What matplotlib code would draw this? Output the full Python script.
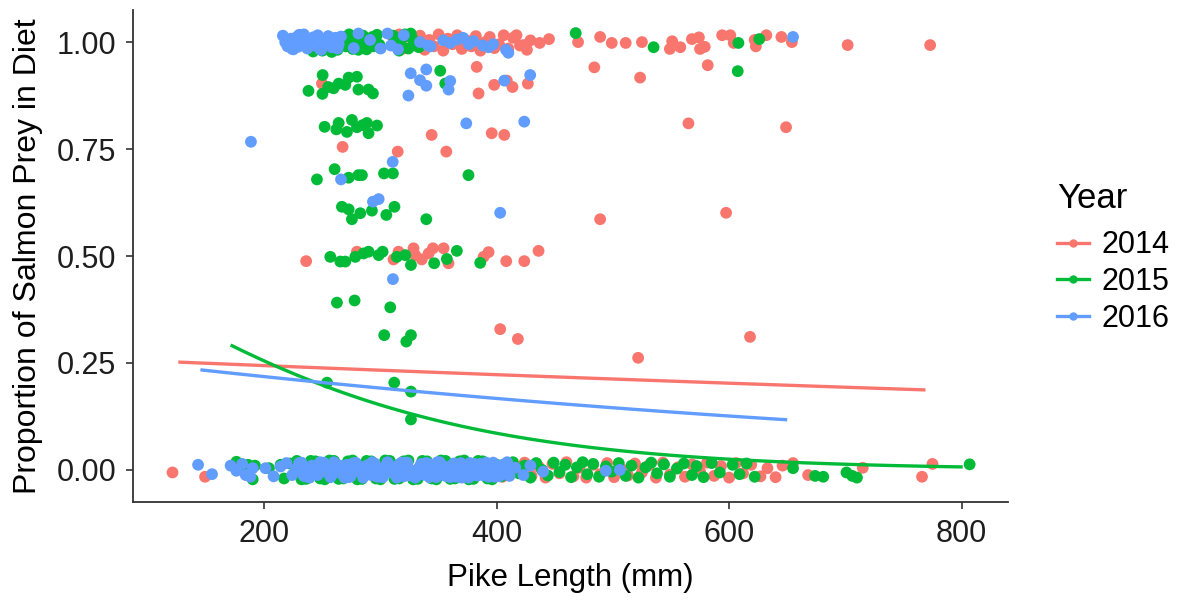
import numpy as np
import matplotlib
matplotlib.use("Agg")
import matplotlib.pyplot as plt
from matplotlib.lines import Line2D

plt.rcParams['font.family'] = ['Liberation Sans', 'DejaVu Sans']

years = ["2014", "2015", "2016"]
colors = ["#F8766D", "#00BA38", "#619CFF"]

# ---------------- 2014 ----------------
x14_zero = [121, 149, 260, 300, 345, 372, 388, 392, 398, 405, 411, 418, 424, 430, 436, 442,
            448, 454, 460, 466, 471, 477, 483, 489, 495, 501, 507, 513, 519, 525, 531, 537,
            543, 549, 556, 562, 568, 575, 581, 587, 593, 600, 606, 612, 619, 627, 633, 640,
            646, 655, 668, 715, 766, 775]
y14_zero = [-0.006, -0.016, -0.010, 0.010, -0.005, 0.012, 0.016, -0.010, 0.004, -0.016, 0.012,
            -0.004, 0.017, -0.014, 0.008, -0.018, 0.014, -0.008, 0.018, -0.015, 0.005, -0.018,
            0.012, -0.010, 0.016, -0.017, 0.003, -0.013, 0.015, -0.006, 0.011, -0.018, 0.017,
            -0.011, 0.006, -0.016, 0.013, -0.004, 0.017, -0.014, 0.009, -0.018, 0.016, -0.008,
            0.012, -0.015, 0.004, -0.017, 0.010, 0.016, -0.012, 0.005, -0.016, 0.014]
x14_one = [311, 316, 320, 325, 330, 334, 338, 342, 346, 350, 354, 358, 362, 366, 370, 374,
           378, 382, 386, 390, 394, 398, 402, 406, 410, 414, 417, 420, 423, 426, 429, 437,
           445, 470, 489, 499, 511, 525, 549, 551, 558, 568, 574, 575, 579, 594, 601, 604,
           622, 623, 632, 645, 654, 702, 773]
y14_one = [1.010, 1.018, 0.985, 1.012, 0.992, 1.015, 0.982, 1.005, 0.990, 1.018, 0.980, 1.008,
           0.995, 1.016, 0.984, 1.004, 0.990, 1.014, 0.980, 1.000, 1.012, 0.986, 0.995, 1.016,
           0.985, 1.010, 1.016, 0.992, 0.993, 0.982, 1.004, 0.998, 1.007, 1.000, 1.012, 0.998,
           0.998, 1.000, 0.984, 1.002, 0.988, 1.007, 1.011, 0.984, 0.989, 1.016, 1.016, 0.998,
           1.005, 0.990, 1.016, 1.012, 1.000, 0.993, 0.993]
x14_mid = [249.6, 382.8, 384.4, 397.8, 408.7, 413.6, 426.8, 484, 523.4, 581.6, 344, 395.7,
           406.5, 267.4, 314.8, 356.6, 565, 649, 489, 597.4, 236, 279.7, 311.2, 315.5, 328.4,
           329.9, 335.5, 341.4, 345.1, 354.3, 358.5, 388.7, 393, 408.2, 423.7, 436, 403, 418.2,
           521.7, 618]
y14_mid = [0.903, 0.942, 0.880, 0.900, 0.910, 0.895, 0.903, 0.941, 0.917, 0.946, 0.783, 0.787,
           0.783, 0.755, 0.744, 0.744, 0.810, 0.801, 0.586, 0.601, 0.488, 0.510, 0.492, 0.510,
           0.518, 0.502, 0.492, 0.506, 0.518, 0.518, 0.483, 0.498, 0.509, 0.488, 0.488, 0.512,
           0.329, 0.306, 0.262, 0.311]

# ---------------- 2015 ----------------
x15_zero = [176, 179, 186, 190, 192, 204, 214, 217, 222,
            228, 236, 244, 252, 260, 268, 276, 284, 292, 300, 308, 316, 324, 332, 340, 348,
            356, 364, 372, 380, 388, 396,
            232, 240, 248, 256, 264, 272, 280, 288, 296, 304, 312, 320, 328, 336, 344, 352,
            360, 368, 376, 384, 392,
            400, 404, 409, 414, 419, 424, 429, 434, 439, 444, 449, 454, 459, 464, 469, 474,
            478, 483, 488, 494, 499, 505, 511, 516, 522, 528, 533, 538, 544, 549, 555, 561,
            568, 572, 578, 585, 592, 603, 609, 615, 622, 655, 674, 681, 701, 706, 710, 807]
y15_zero = [0.019, 0.006, 0.012, -0.022, 0.010, 0.004, 0.012, -0.020, 0.015,
            0.021, -0.021, 0.020, -0.022, 0.021, -0.020, 0.022, -0.021, 0.020, -0.022, 0.021,
            -0.020, 0.022, -0.021, 0.020, -0.022, 0.021, -0.020, 0.022, -0.021, 0.020, -0.022,
            -0.022, 0.021, -0.020, 0.022, -0.021, 0.020, -0.022, 0.021, -0.020, 0.022, -0.021,
            0.020, -0.022, 0.021, -0.020, 0.022, -0.021, 0.020, -0.022, 0.021, -0.020,
            0.012, -0.015, 0.004, 0.018, -0.008, 0.010, -0.018, 0.016, 0.000, -0.013, 0.017,
            -0.005, 0.012, -0.017, 0.006, 0.018, -0.010, 0.014, -0.016, 0.008, -0.004, 0.016,
            -0.014, 0.010, -0.018, 0.006, 0.017, -0.008, 0.013, -0.016, 0.003, 0.015, -0.012,
            0.009, -0.017, 0.016, -0.006, 0.012, -0.010, 0.015, -0.016, 0.004, -0.014, -0.016,
            -0.006, -0.014, -0.018, 0.013]
x15_one = [242, 250, 258, 263, 267, 270, 273, 276, 279, 282, 285, 288, 291, 294, 297, 300,
           269, 275, 281, 287, 293, 299, 311, 314, 318, 321, 324, 327, 330, 333, 316, 326,
           468, 535, 608, 626]
y15_one = [0.978, 0.980, 0.977, 0.982, 1.012, 0.990, 1.018, 0.984, 1.006, 0.995, 1.015, 0.983,
           1.008, 0.990, 1.017, 0.986, 0.998, 1.010, 0.982, 1.002, 1.012, 0.994, 1.015, 0.990,
           1.005, 1.018, 0.985, 1.010, 0.995, 0.988, 0.980, 1.020, 1.021, 0.988, 0.998, 1.007]
x15_mid = [250.2, 238, 250, 259.6, 264, 272.6, 279.7, 269.7, 281, 289.7, 293.5, 255, 351.4,
           355.7, 607.4,
           251.9, 264, 262, 271.1, 275.4, 279.7, 284.7, 288.3, 289.7, 297,
           260.5, 245.3, 272.6, 281, 284, 303, 310.7, 375.7,
           266.8, 272.6, 275.4, 282.6, 292.6, 305, 312, 339.4,
           256.8, 265.4, 269.7, 278.3, 285.4, 289.7, 298.4, 301.8, 314, 321.3, 326.2, 346.2,
           357.1, 365.7, 385.8,
           262.5, 277.7, 308.4, 303.2, 322.2, 326.2, 254, 311.8, 326.2, 326.2]
y15_mid = [0.923, 0.886, 0.879, 0.892, 0.903, 0.917, 0.919, 0.900, 0.889, 0.889, 0.880, 0.895,
           0.933, 0.903, 0.932,
           0.802, 0.811, 0.796, 0.790, 0.818, 0.801, 0.806, 0.811, 0.787, 0.805,
           0.703, 0.679, 0.683, 0.689, 0.689, 0.693, 0.693, 0.689,
           0.615, 0.609, 0.586, 0.600, 0.606, 0.596, 0.615, 0.586,
           0.498, 0.487, 0.487, 0.498, 0.506, 0.510, 0.502, 0.510, 0.498, 0.502, 0.479, 0.483,
           0.493, 0.512, 0.484,
           0.391, 0.396, 0.380, 0.315, 0.300, 0.315, 0.204, 0.204, 0.183, 0.118]

# ---------------- 2016 ----------------
x16_zero = [143, 155, 171, 176, 181, 184, 188, 190, 201, 208, 214, 219, 224, 227,
            232, 236, 239, 243, 246, 250, 253, 257, 260, 264, 267, 271, 274, 278, 281, 285,
            288, 292, 295, 299, 302, 306, 309, 313, 316, 320, 323, 327, 330, 334, 337, 341,
            344, 348, 351, 355, 358, 362, 365, 369, 372, 376, 379, 383, 386, 390, 393, 397,
            400, 404, 407, 411,
            234, 241, 248, 255, 262, 269, 276, 283, 290, 297, 304, 311, 318, 325, 332, 339,
            346, 353, 360, 367, 374, 381, 388, 395, 402, 409,
            230, 237, 244, 251, 258, 265, 272, 279, 286, 293, 300, 307, 314, 321, 328, 335,
            342, 349, 356, 363, 370, 377, 384, 391, 398, 405,
            233, 240, 247, 254, 261, 268, 275, 282, 289, 296, 303, 310, 317, 324, 331, 338,
            345, 352, 359, 366, 373, 380, 387, 394, 401, 408,
            416, 423, 429, 440, 494, 506]
y16_zero = [0.012, -0.010, 0.010, -0.002, 0.014, -0.012, -0.016, 0.004, 0.004, -0.015, 0.008,
            0.016, -0.012, 0.002,
            0.017, -0.006, -0.018, 0.008, -0.012, 0.014, 0.000, -0.017, 0.018, 0.004,
            -0.010, 0.012, -0.016, 0.016, -0.004, -0.018, 0.010, -0.012, 0.015, 0.002,
            -0.017, 0.018, 0.006, -0.010, 0.013, -0.015, 0.017, -0.002, -0.018, 0.009,
            -0.011, 0.015, 0.001, -0.017, 0.018, 0.005, -0.009, 0.012, -0.016, 0.016,
            -0.005, -0.018, 0.010, -0.013, 0.014, 0.003, -0.016, 0.017, 0.006, -0.011,
            0.013, -0.014,
            -0.014, 0.010, 0.018, -0.008, 0.004, -0.018, 0.015, -0.002, 0.012, -0.016,
            0.008, -0.006, 0.017, -0.013, 0.002, 0.016, -0.009, 0.011, -0.017, 0.006,
            -0.004, 0.014, -0.012, 0.009, -0.015, 0.018,
            0.016, -0.016, 0.008, 0.017, -0.012, 0.010, -0.017, 0.016, -0.008, 0.018,
            -0.016, 0.012, -0.018, 0.017, -0.010, 0.014, -0.017, 0.018, -0.014, 0.015,
            -0.018, 0.016, -0.012, 0.017, -0.016, 0.012,
            0.000, 0.006, -0.006, 0.002, -0.003, 0.007, -0.008, 0.001, 0.005, -0.005,
            0.003, -0.007, 0.008, 0.000, -0.004, 0.006, -0.002, 0.004, 0.007, -0.006,
            0.002, -0.008, 0.005, -0.003, 0.006, -0.001,
            0.005, -0.012, 0.010, -0.004, -0.002, 0.000]
x16_one = [216, 220, 222, 225, 228, 231, 234, 237, 240, 243, 246, 249, 252, 255, 258, 261, 264,
           224, 230, 236, 242, 248, 254, 260, 266,
           218, 223, 229, 235, 241, 247, 253, 259, 263,
           277, 281, 291, 300, 306, 309, 315, 320, 334, 341, 343, 354, 360, 366, 371, 376,
           380, 388, 393, 397, 408, 410, 655]
y16_one = [1.015, 0.990, 1.005, 0.983, 1.012, 0.996, 1.018, 0.985, 1.008, 0.992, 1.016, 0.982,
           1.002, 1.014, 0.988, 1.010, 0.995,
           0.984, 1.017, 0.995, 1.011, 0.983, 1.006, 0.990, 1.013,
           1.000, 1.008, 0.989, 1.003, 0.998, 0.988, 1.007, 1.000, 0.985,
           0.986, 1.020, 1.005, 0.985, 1.020, 0.992, 0.983, 1.016, 1.000, 0.992, 0.990, 1.004,
           0.998, 1.006, 1.010, 0.995, 1.002, 0.992, 0.988, 0.995, 0.982, 0.975, 1.012]
x16_mid = [188.5, 326, 339.4, 334, 339.4, 324, 360, 358.6, 406.5, 428.8, 373.8, 423.7, 310.5,
           266, 293.5, 298.4, 403, 310.7]
y16_mid = [0.767, 0.927, 0.936, 0.911, 0.898, 0.875, 0.909, 0.889, 0.910, 0.923, 0.810, 0.814,
           0.720, 0.679, 0.627, 0.633, 0.601, 0.446]

# fitted logistic curves (intercept, slope, x range)
fit_intercept = [-1.013, 0.220, -0.947]
fit_slope = [-0.000594, -0.00647, -0.00165]
fit_xmin = [126, 171, 145]
fit_xmax = [769, 801, 650]

xs = [x14_zero + x14_one + x14_mid, x15_zero + x15_one + x15_mid, x16_zero + x16_one + x16_mid]
ys = [y14_zero + y14_one + y14_mid, y15_zero + y15_one + y15_mid, y16_zero + y16_one + y16_mid]

W, H = 1177, 600
fig = plt.figure(figsize=(W / 100, H / 100), dpi=100)
ax = fig.add_axes([133 / W, 98 / H, (1008 - 133) / W, (502 - 10) / H])

for i in range(3):
    ax.scatter(xs[i], ys[i], s=72, color=colors[i], edgecolors='none', zorder=2 + i * 0.01)

for i in range(3):
    xx = np.linspace(fit_xmin[i], fit_xmax[i], 80)
    pp = 1.0 / (1.0 + np.exp(-(fit_intercept[i] + fit_slope[i] * xx)))
    ax.plot(xx, pp, color=colors[i], lw=2.4, zorder=5, solid_capstyle='butt')

ax.set_xlim(87, 840)
ax.set_ylim(-0.075, 1.075)
ax.set_xticks([200, 400, 600, 800])
ax.set_yticks([0.0, 0.25, 0.5, 0.75, 1.0])
ax.set_yticklabels(["0.00", "0.25", "0.50", "0.75", "1.00"])

for s in ['top', 'right']:
    ax.spines[s].set_visible(False)
for s in ['left', 'bottom']:
    ax.spines[s].set_color('#333333')
    ax.spines[s].set_linewidth(1.3)
ax.tick_params(axis='both', length=5, width=1.2, color='#333333', labelsize=22,
               labelcolor='#1e1e1e', pad=7)

ax.set_xlabel("Pike Length (mm)", fontsize=22.5, color='black', labelpad=10)
ax.set_ylabel("Proportion of Salmon Prey in Diet", fontsize=23, color='black', labelpad=10)

handles = [Line2D([0], [0], color=c, lw=2.4, marker='o', markersize=5) for c in colors]
leg = fig.legend(handles, years, title="Year", loc='upper left',
                 bbox_to_anchor=(1057 / W, 1 - 182 / H), frameon=False,
                 fontsize=22, title_fontsize=25, handlelength=1.05, handletextpad=0.4,
                 labelspacing=0.22, borderpad=0, borderaxespad=0)
leg._legend_box.align = "left"
leg._legend_box.sep = 11

fig.savefig("out.png", dpi=100)
